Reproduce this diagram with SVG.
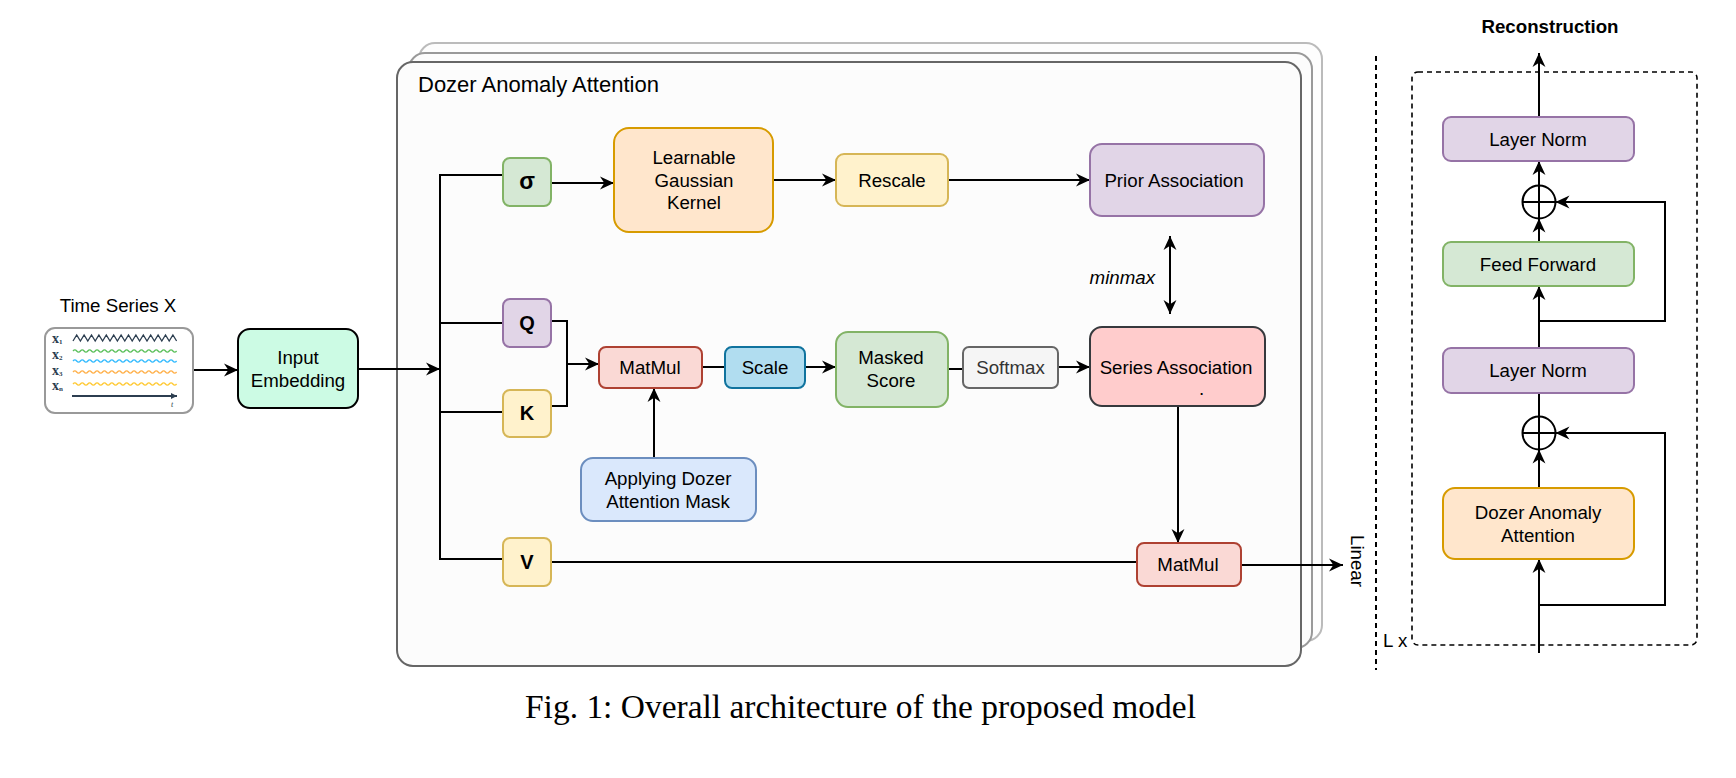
<svg xmlns="http://www.w3.org/2000/svg" width="1736" height="778" viewBox="0 0 1736 778">
<style>
text{font-family:"Liberation Sans",Arial,sans-serif;font-size:18.7px;fill:#000}
.c{text-anchor:middle}
.b{font-weight:bold}
.qkv{font-weight:bold;font-size:20px}
.ln{fill:none;stroke:#000;stroke-width:2}
.arr{marker-end:url(#ah)}
.box{stroke-width:2}
.purple{fill:#e1d5e7;stroke:#9673a6}
.green{fill:#d5e8d4;stroke:#82b366}
.orange{fill:#ffe6cc;stroke:#d79b00}
.yellow{fill:#fff2cc;stroke:#d6b656}
.red{fill:#fad9d5;stroke:#ae4132}
.blue{fill:#b1ddf0;stroke:#10739e}
.lblue{fill:#dae8fc;stroke:#6c8ebf}
.gray{fill:#f5f5f5;stroke:#666666}
.pink{fill:#ffcccc;stroke:#36393d}
.dash{fill:none;stroke:#000;stroke-width:2;stroke-dasharray:5 4}
.wave{fill:none;stroke-width:1.3}
.xs{font-family:"Liberation Serif",serif;font-weight:bold;font-size:14px;fill:#2c3e50}
.sub{font-size:7px}
</style>
<defs>
<marker id="ah" markerUnits="userSpaceOnUse" markerWidth="14" markerHeight="14" viewBox="0 0 13 12" refX="13" refY="6" orient="auto-start-reverse">
<path d="M0,0 L13,6 L0,12 L4,6 z" fill="#000"/>
</marker>
<marker id="sa" markerUnits="userSpaceOnUse" markerWidth="6" markerHeight="6" viewBox="0 0 6 6" refX="6" refY="3" orient="auto">
<path d="M0,0 L6,3 L0,6 z" fill="#2c3e50"/>
</marker>
</defs>
<rect width="1736" height="778" fill="#ffffff"/>

<!-- stacked frames -->
<g id="frames">
<rect x="419" y="43" width="903" height="598" rx="16" fill="#fdfdfd" stroke="#bbbbbb" stroke-width="2"/>
<rect x="409" y="53" width="903" height="595" rx="16" fill="#fcfcfc" stroke="#999999" stroke-width="2"/>
<rect x="397" y="62" width="904" height="604" rx="16" fill="#fcfcfc" stroke="#666666" stroke-width="2"/>
<text x="418" y="92" style="font-size:22px">Dozer Anomaly Attention</text>
</g>

<!-- connectors -->
<g id="connectors">
<path class="ln arr" d="M193,370 H238"/>
<path class="ln arr" d="M358,369 H440"/>
<path class="ln" d="M503,175 H440 V559 H503"/>
<path class="ln" d="M440,323 H503"/>
<path class="ln" d="M440,412 H503"/>
<path class="ln arr" d="M551,183 H614"/>
<path class="ln arr" d="M773,180 H836"/>
<path class="ln arr" d="M948,180 H1090"/>
<path class="ln" d="M551,321 H567 V406 H551"/>
<path class="ln arr" d="M567,364 H599"/>
<path class="ln" d="M702,367 H725"/>
<path class="ln arr" d="M805,367 H836"/>
<path class="ln" d="M948,369 H963"/>
<path class="ln arr" d="M1058,367 H1090"/>
<path class="ln arr" d="M654,458 V388"/>
<path class="ln arr" d="M1170,314 V236" style="marker-start:url(#ah)"/>
<path class="ln arr" d="M1178,406 V543"/>
<path class="ln" d="M551,562 H1137"/>
<path class="ln arr" d="M1241,565 H1343"/>
<!-- right panel -->
<path class="ln arr" d="M1539,117 V53"/>
<path class="ln arr" d="M1539,185.5 V161"/>
<path class="ln arr" d="M1539,242 V218.5"/>
<path class="ln arr" d="M1539,321 H1665 V202 H1555.5"/>
<path class="ln arr" d="M1539,348 V286"/>
<path class="ln" d="M1539,393 V416.5"/>
<path class="ln arr" d="M1539,488 V449.5"/>
<path class="ln arr" d="M1539,605 H1665 V433 H1555.5"/>
<path class="ln arr" d="M1539,653 V559"/>
</g>

<!-- time series -->
<g id="time-series">
<text class="c" x="118" y="312">Time Series X</text>
<rect x="45" y="328" width="148" height="85" rx="10" fill="#ffffff" stroke="#999999" stroke-width="2"/>
<text class="xs" x="52" y="343">x<tspan class="sub" dy="1">1</tspan></text>
<text class="xs" x="52" y="359">x<tspan class="sub" dy="1">2</tspan></text>
<text class="xs" x="52" y="375">x<tspan class="sub" dy="1">3</tspan></text>
<text class="xs" x="52" y="390">x<tspan class="sub" dy="1">n</tspan></text>
<polyline class="wave" stroke="#2c3e50" points="73,341 76.7,335 80.4,341 84.1,335 87.8,341 91.5,335 95.2,341 98.9,335 102.6,341 106.3,335 110,341 113.7,335 117.4,341 121.1,335 124.8,341 128.5,335 132.2,341 135.9,335 139.6,341 143.3,335 147,341 150.7,335 154.4,341 158.1,335 161.8,341 165.5,335 169.2,341 172.9,335 176.6,341"/>
<path class="wave" stroke="#5cc05c" d="M73,351 q1.85,-2.4 3.7,0 t3.7,0 t3.7,0 t3.7,0 t3.7,0 t3.7,0 t3.7,0 t3.7,0 t3.7,0 t3.7,0 t3.7,0 t3.7,0 t3.7,0 t3.7,0 t3.7,0 t3.7,0 t3.7,0 t3.7,0 t3.7,0 t3.7,0 t3.7,0 t3.7,0 t3.7,0 t3.7,0 t3.7,0 t3.7,0 t3.7,0 t3.7,0"/>
<path class="wave" stroke="#33bbff" d="M73,361 q1.85,-2.4 3.7,0 t3.7,0 t3.7,0 t3.7,0 t3.7,0 t3.7,0 t3.7,0 t3.7,0 t3.7,0 t3.7,0 t3.7,0 t3.7,0 t3.7,0 t3.7,0 t3.7,0 t3.7,0 t3.7,0 t3.7,0 t3.7,0 t3.7,0 t3.7,0 t3.7,0 t3.7,0 t3.7,0 t3.7,0 t3.7,0 t3.7,0 t3.7,0"/>
<path class="wave" stroke="#ffb04a" d="M73,372 q1.85,-2.4 3.7,0 t3.7,0 t3.7,0 t3.7,0 t3.7,0 t3.7,0 t3.7,0 t3.7,0 t3.7,0 t3.7,0 t3.7,0 t3.7,0 t3.7,0 t3.7,0 t3.7,0 t3.7,0 t3.7,0 t3.7,0 t3.7,0 t3.7,0 t3.7,0 t3.7,0 t3.7,0 t3.7,0 t3.7,0 t3.7,0 t3.7,0 t3.7,0"/>
<path class="wave" stroke="#ffc933" d="M73,384 q1.85,-2.4 3.7,0 t3.7,0 t3.7,0 t3.7,0 t3.7,0 t3.7,0 t3.7,0 t3.7,0 t3.7,0 t3.7,0 t3.7,0 t3.7,0 t3.7,0 t3.7,0 t3.7,0 t3.7,0 t3.7,0 t3.7,0 t3.7,0 t3.7,0 t3.7,0 t3.7,0 t3.7,0 t3.7,0 t3.7,0 t3.7,0 t3.7,0 t3.7,0"/>
<path d="M72,396 H177" fill="none" stroke="#2c3e50" stroke-width="2" marker-end="url(#sa)"/>
<text x="171" y="407" style="font-family:'Liberation Serif',serif;font-style:italic;font-size:8px;fill:#2c3e50">t</text>
</g>

<g id="input-embedding">
<rect class="box" x="238" y="329" width="120" height="79" rx="12" fill="#ccfbe4" stroke="#000"/>
<text class="c" x="298" y="364">Input</text>
<text class="c" x="298" y="387">Embedding</text>
</g>

<g id="sigma"><rect class="box green" x="503" y="158" width="48" height="48" rx="7"/><text class="c qkv" x="527" y="189" style="font-size:23px">σ</text></g>
<g id="q"><rect class="box purple" x="503" y="299" width="48" height="48" rx="7"/><text class="c qkv" x="527" y="330">Q</text></g>
<g id="k"><rect class="box yellow" x="503" y="390" width="48" height="47" rx="7"/><text class="c qkv" x="527" y="420">K</text></g>
<g id="v"><rect class="box yellow" x="503" y="538" width="48" height="48" rx="7"/><text class="c qkv" x="527" y="569">V</text></g>

<g id="gaussian">
<rect class="box orange" x="614" y="128" width="159" height="104" rx="15"/>
<text class="c" x="694" y="164">Learnable</text>
<text class="c" x="694" y="186.5">Gaussian</text>
<text class="c" x="694" y="209">Kernel</text>
</g>
<g id="rescale"><rect class="box yellow" x="836" y="154" width="112" height="52" rx="8"/><text class="c" x="892" y="186.5">Rescale</text></g>
<g id="prior"><rect class="box purple" x="1090" y="144" width="174" height="72" rx="12"/><text class="c" x="1174" y="186.5">Prior Association</text></g>
<g id="minmax"><text x="1155" y="284" style="text-anchor:end;font-style:italic">minmax</text></g>

<g id="matmul1"><rect class="box red" x="599" y="347" width="103" height="41" rx="7"/><text class="c" x="650" y="374">MatMul</text></g>
<g id="scale"><rect class="box blue" x="725" y="347" width="80" height="41" rx="7"/><text class="c" x="765" y="374">Scale</text></g>
<g id="masked"><rect class="box green" x="836" y="332" width="112" height="75" rx="12"/><text class="c" x="891" y="364">Masked</text><text class="c" x="891" y="387">Score</text></g>
<g id="softmax"><rect class="box gray" x="963" y="347" width="95" height="41" rx="6"/><text class="c" x="1010.5" y="374" style="fill:#333333">Softmax</text></g>
<g id="series"><rect class="box pink" x="1090" y="327" width="175" height="79" rx="12"/><text class="c" x="1176" y="374">Series Association</text><text x="1199" y="395">.</text></g>
<g id="mask"><rect class="box lblue" x="581" y="458" width="175" height="63" rx="12"/><text class="c" x="668" y="485">Applying Dozer</text><text class="c" x="668" y="507.5">Attention Mask</text></g>
<g id="matmul2"><rect class="box red" x="1137" y="543" width="104" height="43" rx="7"/><text class="c" x="1188" y="571">MatMul</text></g>
<g id="linear"><text class="c" transform="translate(1351,561) rotate(90)">Linear</text></g>

<!-- right panel -->
<g id="right-frame">
<path class="dash" d="M1376,56 V670"/>
<rect x="1412" y="72" width="285" height="573" rx="6" class="dash" style="stroke-width:1.6"/>
<text x="1383" y="647">L x</text>
<text class="c b" x="1550" y="33">Reconstruction</text>
</g>
<g id="layernorm1"><rect class="box purple" x="1443" y="117" width="191" height="44" rx="8"/><text class="c" x="1538" y="145.5">Layer Norm</text></g>
<g id="add1"><circle cx="1539" cy="202" r="16.5" fill="none" stroke="#000" stroke-width="2"/><path class="ln" d="M1522.5,202 H1555.5 M1539,185.5 V218.5"/></g>
<g id="feedforward"><rect class="box green" x="1443" y="242" width="191" height="44" rx="8"/><text class="c" x="1538" y="270.5">Feed Forward</text></g>
<g id="layernorm2"><rect class="box purple" x="1443" y="348" width="191" height="45" rx="8"/><text class="c" x="1538" y="377">Layer Norm</text></g>
<g id="add2"><circle cx="1539" cy="433" r="16.5" fill="none" stroke="#000" stroke-width="2"/><path class="ln" d="M1522.5,433 H1555.5 M1539,416.5 V449.5"/></g>
<g id="dozer"><rect class="box orange" x="1443" y="488" width="191" height="71" rx="12"/><text class="c" x="1538" y="519">Dozer Anomaly</text><text class="c" x="1538" y="542">Attention</text></g>

<g id="caption"><text x="525" y="718" textLength="671" lengthAdjust="spacingAndGlyphs" style="font-family:'Liberation Serif','Times New Roman',serif;font-size:33.4px">Fig. 1: Overall architecture of the proposed model</text></g>
</svg>
